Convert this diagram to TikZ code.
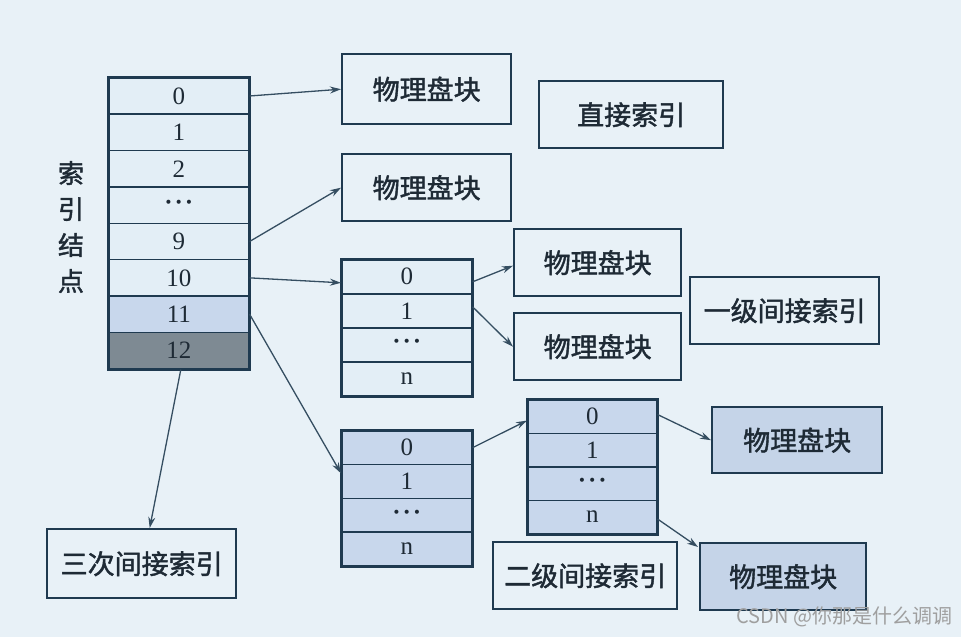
\documentclass[tikz,border=0pt]{standalone}
\usepackage{fontspec}
\setmainfont{Liberation Serif}
\newfontfamily\cjk{Noto Sans CJK SC}[FakeBold=1.5]
\newfontfamily\cjkwm{Noto Sans CJK SC}
\usetikzlibrary{arrows.meta,calc}
\definecolor{bgc}{HTML}{E8F1F7}
\definecolor{linec}{HTML}{1F3A50}
\definecolor{txtc}{HTML}{1E2A35}
\definecolor{lightc}{HTML}{E3EEF6}
\definecolor{midc}{HTML}{C8D7EC}
\definecolor{darkc}{HTML}{7E8A93}
\definecolor{boxc}{HTML}{C5D4E8}
\newcommand\mydts{\textbf{·\kern2pt·\kern2pt·}}
\tikzset{
  cell/.style={draw=linec, line width=1.6pt, anchor=north west, inner sep=0pt, text=txtc,
    font=\fontsize{25}{27}\selectfont},
  blk/.style={draw=linec, line width=2.4pt, anchor=north west, inner sep=0pt, text=txtc,
    font=\cjk\fontsize{27}{30}\selectfont, fill=bgc},
  arr/.style={draw=linec!90, line width=1.3pt, -{Stealth[length=11pt,width=7pt]}},
  outer/.style={draw=linec, line width=2.6pt}
}
\begin{document}
\begin{tikzpicture}[x=1pt,y=-1pt]
\fill[bgc] (0,0) rectangle (961,637);
\useasboundingbox (0,0) rectangle (961,637);
% index node table
\foreach \lab [count=\i from 0] in {0,1,2,{\mydts},9,10,11,12}{
  \pgfmathsetmacro{\yy}{77+36.375*\i}
  \ifnum\i<6
    \node[cell, fill=lightc, minimum width=140pt, minimum height=36.375pt] (I\i) at (108,\yy) {\lab};
  \else\ifnum\i=6
    \node[cell, fill=midc, minimum width=140pt, minimum height=36.375pt] (I\i) at (108,\yy) {\lab};
  \else
    \node[cell, fill=darkc, minimum width=140pt, minimum height=36.375pt] (I\i) at (108,\yy) {\lab};
  \fi\fi
}
\draw[outer] (I0.north west) rectangle (I7.south east);
\node[text=txtc, font=\cjk\fontsize{26}{36}\selectfont, align=center] (lbl) at (71,227) {索\\引\\结\\点};
% blocks
\node[blk, minimum width=169pt, minimum height=70pt] (P1) at (341,53) {物理盘块};
\node[blk, minimum width=184pt, minimum height=67pt] (D) at (538,80) {直接索引};
\node[blk, minimum width=169pt, minimum height=67pt] (P2) at (341,153) {物理盘块};
% table A
\foreach \lab [count=\i from 0] in {0,1,{\mydts},n}{
  \pgfmathsetmacro{\yy}{259+34*\i}
  \node[cell, fill=lightc, minimum width=130pt, minimum height=34pt] (A\i) at (341,\yy) {\lab};
}
\draw[outer] (A0.north west) rectangle (A3.south east);
\node[blk, minimum width=167pt, minimum height=67pt] (P3) at (513,228) {物理盘块};
\node[blk, minimum width=167pt, minimum height=67pt] (P4) at (513,312) {物理盘块};
\node[blk, minimum width=189pt, minimum height=67pt] (L1) at (689,276) {一级间接索引};
% table B
\foreach \lab [count=\i from 0] in {0,1,{\mydts},n}{
  \pgfmathsetmacro{\yy}{430+33.75*\i}
  \node[cell, fill=midc, minimum width=130pt, minimum height=33.75pt] (B\i) at (341,\yy) {\lab};
}
\draw[outer] (B0.north west) rectangle (B3.south east);
% table C
\foreach \lab [count=\i from 0] in {0,1,{\mydts},n}{
  \pgfmathsetmacro{\yy}{399+33.5*\i}
  \node[cell, fill=midc, minimum width=129pt, minimum height=33.5pt] (C\i) at (527,\yy) {\lab};
}
\draw[outer] (C0.north west) rectangle (C3.south east);
\node[blk, fill=boxc, minimum width=170pt, minimum height=66pt] (P5) at (711,406) {物理盘块};
\node[blk, minimum width=184pt, minimum height=67pt] (L2) at (492,541) {二级间接索引};
\node[blk, fill=boxc, minimum width=166pt, minimum height=67pt] (P6) at (699,542) {物理盘块};
\node[blk, minimum width=189pt, minimum height=69pt] (L3) at (46,528) {三次间接索引};
% arrows
\draw[arr] (I0.east) -- (P1.west);
\draw[arr] (I4.east) -- (P2.west);
\draw[arr] (I5.east) -- ([yshift=-6pt]A0.west);
\draw[arr] (I6.east) -- ([yshift=-8pt]B0.south west);
\draw[arr] ([xshift=2pt]I7.south) -- ([xshift=8pt]L3.north);
\draw[arr] ([yshift=-5pt]A0.east) -- ([yshift=-3pt]P3.west);
\draw[arr] ([yshift=4pt]A1.east) -- (P4.west);
\draw[arr] (B0.east) -- ([yshift=-4pt]C0.west);
\draw[arr] ([yshift=2pt]C0.east) -- (P5.west);
\draw[arr] ([yshift=-2pt]C3.east) -- ([xshift=-1pt,yshift=-5pt]P6.north west);
% watermark
\node[anchor=east, text=gray!75, font=\cjkwm\fontsize{20}{22}\selectfont] (wm) at (956,617) {CSDN @你那是什么调调};
\end{tikzpicture}
\end{document}
